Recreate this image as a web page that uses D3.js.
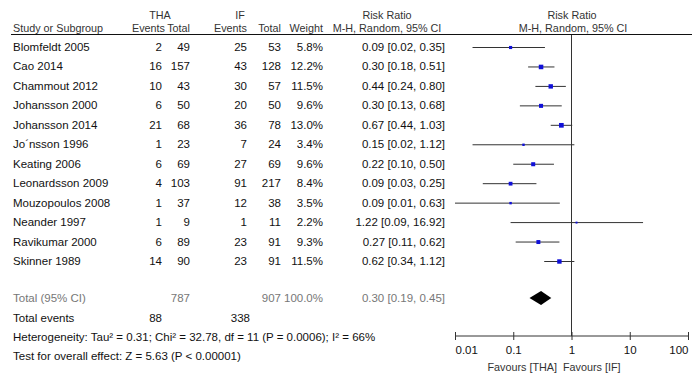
<!doctype html>
<html lang="en">
<head>
    <meta charset="UTF-8" />
    <title>Forest plot</title>
    <script src="https://d3js.org/d3.v7.min.js"></script>
    <style>
        body, html {
            margin: 0;
            padding: 0;
            background: #fff;
        }
        svg text {
            font-family: "Liberation Sans", Arial, sans-serif;
            font-size: 11.5px;
            fill: #111;
        }
        .grey text {
            fill: #777;
        }
        .sub text {
            font-size: 10.8px;
            fill: #333;
        }
    </style>
</head>
<body>
    <svg id="chart" width="692" height="380"></svg>
    <script>
        // study data
        const studies = ["Blomfeldt 2005", "Cao 2014", "Chammout 2012", "Johansson 2000", "Johansson 2014",
            "Jo\u00b4nsson 1996", "Keating 2006", "Leonardsson 2009", "Mouzopoulos 2008", "Neander 1997",
            "Ravikumar 2000", "Skinner 1989"];
        const thaEvents = [2, 16, 10, 6, 21, 1, 6, 4, 1, 1, 6, 14];
        const thaTotal = [49, 157, 43, 50, 68, 23, 69, 103, 37, 9, 89, 90];
        const ifEvents = [25, 43, 30, 20, 36, 7, 27, 91, 12, 1, 23, 23];
        const ifTotal = [53, 128, 57, 50, 78, 24, 69, 217, 38, 11, 91, 91];
        const weight = [5.8, 12.2, 11.5, 9.6, 13.0, 3.4, 9.6, 8.4, 3.5, 2.2, 9.3, 11.5];
        const rr = [0.09, 0.30, 0.44, 0.30, 0.67, 0.15, 0.22, 0.09, 0.09, 1.22, 0.27, 0.62];
        const lower = [0.02, 0.18, 0.24, 0.13, 0.44, 0.02, 0.10, 0.03, 0.01, 0.09, 0.11, 0.34];
        const upper = [0.35, 0.51, 0.80, 0.68, 1.03, 1.12, 0.50, 0.25, 0.63, 16.92, 0.62, 1.12];

        const total = { tha: 787, ifT: 907, weight: "100.0%", rr: 0.30, lo: 0.19, hi: 0.45, thaEv: 88, ifEv: 338 };
        const axisTicks = [0.01, 0.1, 1, 10, 100];
        const axisLabels = ["0.01", "0.1", "1", "10", "100"];

        const svg = d3.select("#chart");

        const x = d3.scaleLog().domain([0.01, 100]).range([455, 688]);
        const y = d3.scaleLinear().domain([0, 11]).range([47, 261]);

        const f2 = d3.format(".2f");
        const ciText = (r, l, u) => `${f2(r)} [${f2(l)}, ${f2(u)}]`;

        function txt(g, xp, yp, s, anchor) {
            return g.append("text")
                .attr("x", xp)
                .attr("y", yp)
                .attr("dy", "0.35em")
                .attr("text-anchor", anchor || "start")
                .text(s);
        }

        // header
        const head = svg.append("g").attr("class", "sub");
        txt(head, 160, 15, "THA", "middle");
        txt(head, 240, 15, "IF", "middle");
        txt(head, 387, 15, "Risk Ratio", "middle");
        txt(head, 572, 15, "Risk Ratio", "middle");
        txt(head, 13, 28, "Study or Subgroup");
        txt(head, 165, 28, "Events", "end");
        txt(head, 190, 28, "Total", "end");
        txt(head, 247, 28, "Events", "end");
        txt(head, 281, 28, "Total", "end");
        txt(head, 323, 28, "Weight", "end");
        txt(head, 387, 28, "M-H, Random, 95% CI", "middle");
        txt(head, 573, 28, "M-H, Random, 95% CI", "middle");
        svg.append("line")
            .attr("x1", 11).attr("x2", 692)
            .attr("y1", 34.5).attr("y2", 34.5)
            .attr("stroke", "#111").attr("stroke-width", 1.2);

        // study rows
        const rows = svg.append("g");
        studies.forEach((s, i) => {
            const yy = y(i);
            txt(rows, 13, yy, s);
            txt(rows, 162, yy, thaEvents[i], "end");
            txt(rows, 190, yy, thaTotal[i], "end");
            txt(rows, 247, yy, ifEvents[i], "end");
            txt(rows, 281, yy, ifTotal[i], "end");
            txt(rows, 323, yy, weight[i].toFixed(1) + "%", "end");
            txt(rows, 445, yy, ciText(rr[i], lower[i], upper[i]), "end");
        });

        // vertical line of no effect
        svg.append("line")
            .attr("x1", x(1)).attr("x2", x(1))
            .attr("y1", 35).attr("y2", 336)
            .attr("stroke", "#333").attr("stroke-width", 1);

        // CI lines and squares
        const marks = svg.append("g");
        marks.selectAll("line.ci")
            .data(studies)
            .join("line")
            .attr("class", "ci")
            .attr("x1", (d, i) => x(Math.max(lower[i], 0.01)))
            .attr("x2", (d, i) => x(Math.min(upper[i], 100)))
            .attr("y1", (d, i) => y(i) + 0.5)
            .attr("y2", (d, i) => y(i) + 0.5)
            .attr("stroke", "#333")
            .attr("stroke-width", 1);

        const side = w => 1.3 * Math.sqrt(w);
        marks.selectAll("rect.pt")
            .data(studies)
            .join("rect")
            .attr("class", "pt")
            .attr("x", (d, i) => x(rr[i]) - side(weight[i]) / 2)
            .attr("y", (d, i) => y(i) + 0.5 - side(weight[i]) / 2)
            .attr("width", (d, i) => side(weight[i]))
            .attr("height", (d, i) => side(weight[i]))
            .attr("fill", "#1010d8");

        // totals
        const yTot = 298;
        const tot = svg.append("g").attr("class", "grey");
        txt(tot, 13, yTot, "Total (95% CI)");
        txt(tot, 190, yTot, total.tha, "end");
        txt(tot, 281, yTot, total.ifT, "end");
        txt(tot, 323, yTot, total.weight, "end");
        txt(tot, 445, yTot, ciText(total.rr, total.lo, total.hi), "end");

        svg.append("path")
            .attr("d", `M${x(total.lo)},${yTot} L${x(total.rr)},${yTot - 7} L${x(total.hi)},${yTot} L${x(total.rr)},${yTot + 7} Z`)
            .attr("fill", "#000");

        const foot = svg.append("g");
        txt(foot, 13, 318, "Total events");
        txt(foot, 162, 318, total.thaEv, "end");
        txt(foot, 250, 318, total.ifEv, "end");
        txt(foot, 13, 337, "Heterogeneity: Tau\u00b2 = 0.31; Chi\u00b2 = 32.78, df = 11 (P = 0.0006); I\u00b2 = 66%");
        txt(foot, 13, 356, "Test for overall effect: Z = 5.63 (P < 0.00001)");

        // axis
        const axisY = 336;
        const axis = svg.append("g").attr("transform", `translate(0,${axisY})`);
        axis.call(d3.axisBottom(x).tickValues(axisTicks).tickFormat((d, i) => axisLabels[i]).tickSize(4).tickPadding(6));
        axis.select(".domain").attr("stroke", "#333").attr("d", `M${x(0.01)},0H${x(100)}`);
        axis.selectAll(".tick line").attr("y1", -4).attr("y2", 4).attr("stroke", "#333");
        axis.selectAll(".tick text")
            .attr("font-family", "Liberation Sans, Arial, sans-serif")
            .attr("font-size", 11.5)
            .attr("fill", "#111")
            .attr("text-anchor", (d, i) => i === 0 ? "start" : i === axisTicks.length - 1 ? "end" : "middle");

        const fav = svg.append("g").attr("class", "sub");
        txt(fav, 557, 367, "Favours [THA]", "end");
        txt(fav, 563, 367, "Favours [IF]", "start");
    </script>
</body>
</html>
